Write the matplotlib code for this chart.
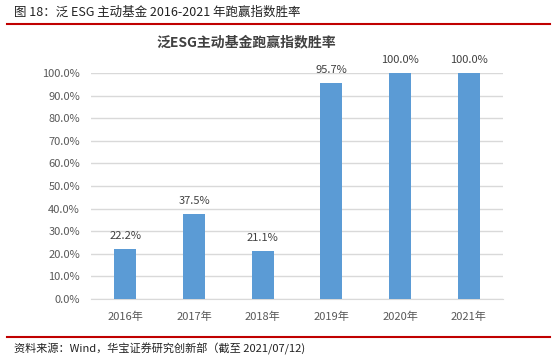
import matplotlib.pyplot as plt
from matplotlib.ticker import FuncFormatter

plt.rcParams['font.family'] = ['Noto Sans CJK SC', 'DejaVu Sans']

years = ['2016年', '2017年', '2018年', '2019年', '2020年', '2021年']
win_rate = [22.2, 37.5, 21.1, 95.7, 100.0, 100.0]

fig = plt.figure(figsize=(5.54, 3.58), dpi=100)
ax = fig.add_axes([91 / 554, (358 - 299) / 358, (503 - 91) / 554, (299 - 73) / 358])

ax.bar(range(len(years)), win_rate, width=0.32, color='#5B9BD5', zorder=3)
for i, v in enumerate(win_rate):
    ax.text(i, v + 3.5, f'{v:.1f}%', ha='center', va='bottom', fontsize=8, color='#404040')

ax.set_ylim(0, 100)
ax.set_xlim(-0.5, len(years) - 0.5)
ax.set_yticks(range(0, 101, 10))
ax.yaxis.set_major_formatter(FuncFormatter(lambda v, p: f'{v:.1f}%'))
ax.set_xticks(range(len(years)))
ax.set_xticklabels(years)
ax.tick_params(axis='both', length=0, labelsize=8, colors='#595959')
ax.tick_params(axis='y', pad=8)
ax.tick_params(axis='x', pad=9)
ax.grid(axis='y', color='#D9D9D9', linewidth=1, zorder=0)
for s in ['top', 'right', 'left']:
    ax.spines[s].set_visible(False)
ax.spines['bottom'].set_color('#D9D9D9')
ax.set_facecolor('none')

ax.set_title('泛ESG主动基金跑赢指数胜率', fontsize=10, fontweight='bold',
             color='#404040', x=(246 - 91) / (503 - 91), pad=19)

# 顶部和底部的红线与说明文字
fig.text(14 / 554, 1 - 12 / 358, '图 18：泛 ESG 主动基金 2016-2021 年跑赢指数胜率',
         fontsize=9, color='#222222', va='center')
fig.add_artist(plt.Line2D([7 / 554, 550 / 554], [1 - 24 / 358] * 2, color='#C00000', linewidth=1.5))
fig.add_artist(plt.Line2D([7 / 554, 550 / 554], [1 - 337 / 358] * 2, color='#C00000', linewidth=1.5))
fig.text(14 / 554, 1 - 349 / 358, '资料来源：Wind，华宝证券研究创新部（截至 2021/07/12)',
         fontsize=8, color='#222222', va='center')

fig.savefig('out.png', dpi=100)
